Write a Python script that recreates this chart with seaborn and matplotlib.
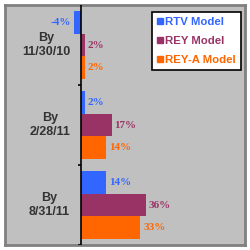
import matplotlib
matplotlib.use("Agg")
import matplotlib.pyplot as plt
import seaborn as sns
import pandas as pd
from matplotlib.lines import Line2D

categories = ["By\n11/30/10", "By\n2/28/11", "By\n8/31/11"]
series = ["RTV Model", "REY Model", "REY-A Model"]
rtv = [-4, 2, 14]
rey = [2, 17, 36]
reya = [2, 14, 33]
colors = ["#3366FF", "#993366", "#FF6600"]

rows = []
for name, vals in zip(series, [rtv, rey, reya]):
    for c, v in zip(categories, vals):
        rows.append({"cat": c, "model": name, "value": v})
df = pd.DataFrame(rows)

sns.set_style("white")
fig = plt.figure(figsize=(2.5, 2.5), dpi=100)
fig.patch.set_facecolor("white")
ax = fig.add_axes([5/250, 5/250, 240/250, 240/250])
ax.set_facecolor("#C0C0C0")

sns.barplot(data=df, y="cat", x="value", hue="model", order=categories,
            hue_order=series, palette=colors, orient="h", width=0.86,
            saturation=1, ax=ax, legend=False, edgecolor="none", linewidth=0)

ax.set_xlim(-42.2, 91.1)
ax.set_ylim(2.5, -0.5)
ax.set_xticks([])
ax.set_yticks([])
ax.set_xlabel("")
ax.set_ylabel("")
for s in ax.spines.values():
    s.set_color("#808080")
    s.set_linewidth(2)

ax.axvline(0, color="black", lw=1.2, zorder=5)
ax.hlines([0.5, 1.5, 2.5], -1.8, 0, color="black", lw=1.2, zorder=5)

# category labels
for i, c in enumerate(categories):
    ax.text(-6.0, i, c, ha="right", va="center", multialignment="center",
            fontsize=9, fontweight="bold", color="#333333",
            family="Liberation Sans", linespacing=1.3)

# value labels
for cont, col in zip(ax.containers, colors):
    for bar in cont:
        w = bar.get_width()
        y = bar.get_y() + bar.get_height() / 2
        txt = f"{int(round(w))}%"
        if w < 0:
            ax.annotate(txt, (w, y), xytext=(-2, 0), textcoords="offset points",
                        ha="right", va="center", color=col, fontsize=8,
                        family="Liberation Serif", fontweight="bold")
        else:
            ax.annotate(txt, (w, y), xytext=(2, 0), textcoords="offset points",
                        ha="left", va="center", color=col, fontsize=8,
                        family="Liberation Serif", fontweight="bold")

handles = [Line2D([], [], marker="s", linestyle="none", color=c, markersize=5)
           for c in colors]
leg = ax.legend(handles, series, loc="upper right",
                bbox_to_anchor=(241/250, 1 - 12/250),
                bbox_transform=fig.transFigure, frameon=True, fancybox=False,
                framealpha=1, edgecolor="black", handlelength=0.55,
                handletextpad=0.15, labelspacing=0.8, borderpad=0.45,
                borderaxespad=0, prop={"family": "Liberation Sans",
                                      "weight": "bold", "size": 8.2})
leg.get_frame().set_linewidth(1.2)
for t, c in zip(leg.get_texts(), colors):
    t.set_color(c)

fig.savefig("out.png", dpi=100)
